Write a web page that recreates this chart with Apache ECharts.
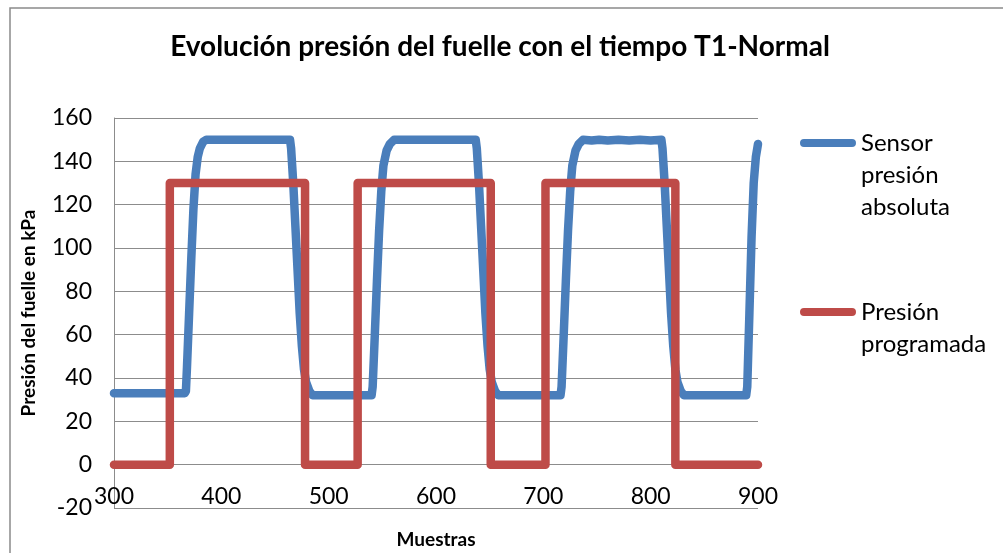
<!DOCTYPE html>
<html>
<head>
<meta charset="utf-8">
<script src="https://cdn.jsdelivr.net/npm/echarts@6/dist/echarts.min.js"></script>
<style>
html,body{margin:0;padding:0;background:#fff;}
#chart{width:1003px;height:553px;}
</style>
</head>
<body>
<div id="chart"></div>
<script>
// ---- Data ----
const chartTitle = 'Evolución presión del fuelle con el tiempo T1-Normal';
const xAxisName = 'Muestras';
const yAxisName = 'Presión del fuelle en kPa';
const seriesNames = ['Sensor presión absoluta', 'Presión programada'];
const legendLabels = ['Sensor\npresión\nabsoluta', 'Presión\nprogramada'];

// Sensor presión absoluta: [muestra, kPa]
const sensorData = [
  [300,33],[366,33],[367,34],[368,45],[370,70],[372,95],[374,118],[376,134],[378,142],[380,146],[383,149],[386,150],
  [464,150],[465,146],[467,130],[469,110],[471,90],[473,70],[475,55],[477,44],[479,38],[482,34],[485,32],
  [540,32],[541,36],[543,60],[545,85],[547,108],[549,126],[551,138],[554,145],[557,148],[561,150],
  [637,150],[638,146],[640,130],[642,110],[644,90],[646,70],[648,55],[650,44],[652,38],[655,34],[658,32],
  [716,32],[717,36],[719,60],[721,85],[723,108],[725,126],[727,138],[730,145],[733,148],[737,150],
  [745,149.6],[752,150],[760,149.6],[770,150],[780,149.6],[790,150],[800,149.6],[810,150],
  [811,146],[813,130],[815,110],[817,90],[819,70],[821,55],[823,44],[825,38],[828,34],[831,32],
  [889,32],[890,36],[892,70],[894,105],[896,130],[898,142],[900,148]
];

// Presión programada: [muestra, kPa]
const programData = [
  [300,0],[352,0],[352,130],[478,130],[478,0],[527,0],[527,130],[651,130],[651,0],
  [702,0],[702,130],[823,130],[823,0],[900,0]
];

const xMin = 300, xMax = 900, xStep = 100;
const yMin = -20, yMax = 160, yStep = 20;

const FONT = 'Lato, "Liberation Sans", sans-serif';
const BLUE = '#4A7EBB';
const RED = '#BE4B48';
const GRID = '#8c8c8c';

// plot box (pixels)
const PLOT = { left: 114, top: 118, right: 758, bottom: 508 };
const pxPerUnit = (PLOT.bottom - PLOT.top) / (yMax - yMin);

const chart = echarts.init(document.getElementById('chart'), null, {renderer:'canvas'});

const legendText = {};
seriesNames.forEach((n,i)=>{ legendText[n] = legendLabels[i]; });

const LH = 32;
function legendIconPath(h){
  return 'path://M0,0L0.01,0L0,0.01Z M4,12 L52,12 A4,4 0 0 1 52,20 L4,20 A4,4 0 0 1 4,12 Z M55.99,' + h + ' L56,' + h + ' L56,' + (h - 0.01) + ' Z';
}
function legendFor(i, firstLineY){
  const lines = legendLabels[i].split('\n').length;
  const h = lines * LH;
  return {
    show: true,
    left: 800,
    top: firstLineY - LH / 2,
    padding: 0,
    itemWidth: 56,
    itemHeight: h,
    symbolKeepAspect: false,
    selectedMode: false,
    icon: legendIconPath(h),
    itemStyle: { borderWidth: 0 },
    data: [seriesNames[i]],
    formatter: name => legendText[name],
    textStyle: { fontFamily: FONT, fontSize: 24, color: '#000', lineHeight: LH }
  };
}

const option = {
  animation: false,
  backgroundColor: '#fff',
  graphic: [{
    type: 'rect',
    shape: { x: 10, y: 8, width: 1200, height: 800 },
    style: { fill: 'none', stroke: '#8a8a8a', lineWidth: 1.5 },
    silent: true,
    z: -10
  }],
  title: {
    text: chartTitle,
    left: 495,
    textAlign: 'center',
    top: 28,
    textStyle: { fontFamily: FONT, fontSize: 28, fontWeight: 'bold', color: '#000' }
  },
  legend: [
    legendFor(0, 143),
    legendFor(1, 312)
  ],
  grid: {
    left: PLOT.left, right: 1003 - PLOT.right, top: PLOT.top, bottom: 553 - PLOT.bottom,
    outerBoundsMode: 'none', containLabel: false
  },
  xAxis: {
    type: 'value',
    min: xMin, max: xMax, interval: xStep,
    name: xAxisName,
    nameLocation: 'middle',
    nameGap: 66,
    offset: -(0 - yMin) * pxPerUnit,
    nameTextStyle: { fontFamily: FONT, fontSize: 19, fontWeight: 'bold', color: '#000' },
    axisLine: { show: true, onZero: false, lineStyle: { color: GRID, width: 1 } },
    axisTick: { show: false },
    splitLine: { show: false },
    axisLabel: { fontFamily: FONT, fontSize: 23, color: '#000', margin: 20 }
  },
  yAxis: {
    type: 'value',
    min: yMin, max: yMax, interval: yStep,
    name: yAxisName,
    nameLocation: 'middle',
    nameGap: 76,
    nameTextStyle: { fontFamily: FONT, fontSize: 19, fontWeight: 'bold', color: '#000' },
    axisLine: { show: true, onZero: false, lineStyle: { color: GRID, width: 1 } },
    axisTick: { show: false },
    splitLine: { show: true, lineStyle: { color: GRID, width: 1 } },
    axisLabel: { fontFamily: FONT, fontSize: 23, color: '#000', margin: 22 }
  },
  series: [
    {
      name: seriesNames[0],
      type: 'line',
      data: sensorData,
      showSymbol: false,
      symbol: 'none',
      smooth: false,
      lineStyle: { color: BLUE, width: 8.5, cap: 'round', join: 'round' },
      itemStyle: { color: BLUE },
      z: 2
    },
    {
      name: seriesNames[1],
      type: 'line',
      data: programData,
      showSymbol: false,
      symbol: 'none',
      smooth: false,
      lineStyle: { color: RED, width: 8.5, cap: 'round', join: 'round' },
      itemStyle: { color: RED },
      z: 3
    }
  ]
};

chart.setOption(option);
</script>
</body>
</html>
